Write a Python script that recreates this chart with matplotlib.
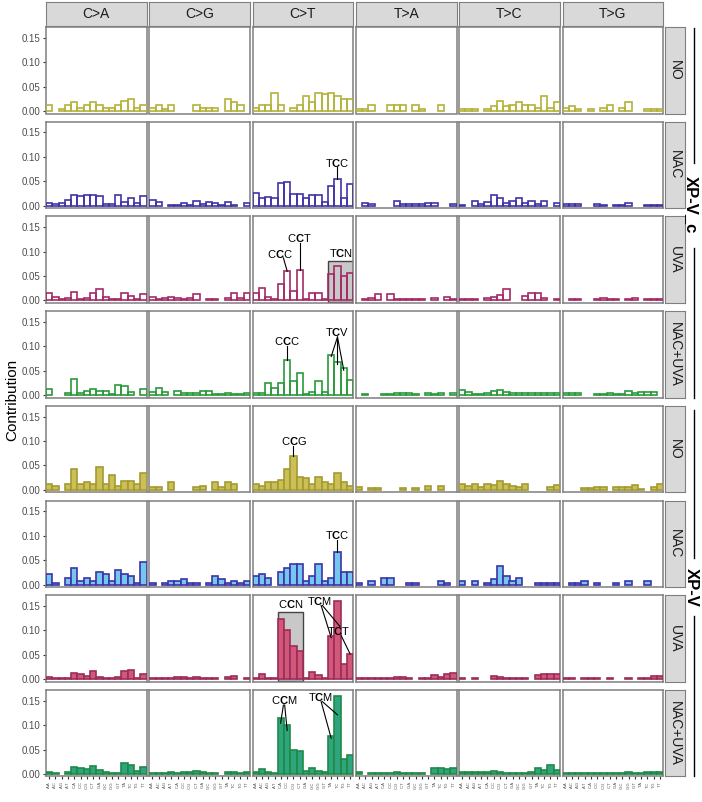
import matplotlib
matplotlib.use("Agg")
import matplotlib.pyplot as plt
from matplotlib.patches import Rectangle
from matplotlib.lines import Line2D

plt.rcParams['font.family'] = ['Liberation Sans', 'DejaVu Sans']
plt.rcParams['mathtext.fontset'] = 'custom'
plt.rcParams['mathtext.rm'] = 'Liberation Sans'
plt.rcParams['mathtext.bf'] = 'Liberation Sans:bold'

# ---- data: 96 contributions per sample, 16 per substitution type ----
substitutions = ['C>A', 'C>G', 'C>T', 'T>A', 'T>C', 'T>G']
contexts = [a + '.' + b for a in 'ACGT' for b in 'ACGT']
treatments = ['NO', 'NAC', 'UVA', 'NAC+UVA']

xpvc_no = [
    0.012, 0, 0.005, 0.012, 0.019, 0.007, 0.013, 0.019, 0.013, 0.006, 0.006, 0.013, 0.020, 0.025, 0.006, 0.013,
    0.006, 0.012, 0.005, 0.012, 0, 0, 0, 0.012, 0.006, 0.006, 0.006, 0, 0.024, 0.018, 0.012, 0,
    0.006, 0.012, 0.012, 0.036, 0.012, 0, 0.006, 0.012, 0.030, 0.018, 0.036, 0.034, 0.036, 0.030, 0.025, 0.025,
    0.005, 0.005, 0.012, 0, 0, 0.012, 0.012, 0.012, 0, 0.012, 0.005, 0, 0, 0.012, 0, 0,
    0.005, 0.005, 0.005, 0, 0.005, 0.010, 0.020, 0.010, 0.013, 0.018, 0.012, 0.012, 0.006, 0.030, 0.006, 0.018,
    0.006, 0.010, 0.005, 0, 0.005, 0, 0.006, 0.012, 0, 0.006, 0.018, 0, 0, 0.005, 0.005, 0.005]
xpvc_nac = [
    0.005, 0.003, 0.005, 0.012, 0.023, 0.020, 0.022, 0.022, 0.020, 0.003, 0.003, 0.023, 0.008, 0.015, 0.005, 0.020,
    0.012, 0.008, 0, 0.002, 0.002, 0.005, 0.002, 0.010, 0.003, 0.007, 0.005, 0.002, 0.008, 0.002, 0, 0.006,
    0.027, 0.015, 0.018, 0.015, 0.046, 0.048, 0.024, 0.024, 0.015, 0.021, 0.021, 0.008, 0.040, 0.055, 0.015, 0.045,
    0, 0.006, 0.004, 0, 0, 0, 0.010, 0.003, 0.003, 0.003, 0.003, 0.005, 0.005, 0, 0, 0.004,
    0.002, 0, 0.010, 0.003, 0.008, 0.022, 0.015, 0.006, 0.010, 0.016, 0.006, 0.010, 0.003, 0.010, 0, 0.005,
    0.003, 0.004, 0.004, 0, 0, 0.004, 0.002, 0, 0.002, 0.002, 0.005, 0, 0, 0.002, 0.002, 0.002]
xpvc_uva = [
    0.015, 0.007, 0.003, 0.006, 0.018, 0.003, 0.006, 0.015, 0.024, 0.008, 0.003, 0.003, 0.016, 0.010, 0.003, 0.014,
    0.008, 0.003, 0.005, 0.008, 0.005, 0.003, 0.006, 0.013, 0, 0.003, 0.003, 0, 0.006, 0.015, 0.006, 0.015,
    0.016, 0.026, 0.008, 0.003, 0.033, 0.060, 0.020, 0.063, 0.003, 0.016, 0.016, 0.003, 0.054, 0.070, 0.051, 0.056,
    0, 0.003, 0.006, 0.014, 0, 0.014, 0.002, 0.002, 0.002, 0.004, 0.004, 0, 0.005, 0, 0.008, 0.002,
    0.002, 0.004, 0.004, 0, 0.005, 0.008, 0.012, 0.023, 0, 0, 0.010, 0.016, 0.016, 0.006, 0, 0.003,
    0, 0.003, 0.003, 0, 0, 0.003, 0.006, 0.004, 0.002, 0, 0.003, 0.006, 0, 0.004, 0.004, 0.002]
xpvc_nacuva = [
    0.012, 0, 0, 0.005, 0.034, 0.004, 0.009, 0.012, 0.009, 0.009, 0.003, 0.020, 0.018, 0.006, 0, 0.013,
    0.006, 0.015, 0.006, 0, 0.008, 0.005, 0.005, 0.005, 0.008, 0.008, 0.002, 0.002, 0.005, 0.002, 0.002, 0.005,
    0.005, 0.005, 0.025, 0.015, 0.025, 0.071, 0.028, 0.046, 0.003, 0.006, 0.028, 0.006, 0.083, 0.067, 0.055, 0.030,
    0, 0.003, 0, 0, 0.002, 0.002, 0.004, 0.005, 0.005, 0.002, 0, 0.005, 0.003, 0.005, 0, 0.004,
    0.010, 0.006, 0.003, 0.003, 0.005, 0.009, 0.011, 0.006, 0.004, 0.004, 0.004, 0.004, 0.004, 0.004, 0.004, 0.004,
    0.004, 0.004, 0.004, 0, 0, 0.002, 0.002, 0.004, 0.002, 0.002, 0.008, 0.004, 0.006, 0.006, 0.006, 0]
xpv_no = [
    0.012, 0.008, 0, 0.012, 0.042, 0.012, 0.016, 0.012, 0.046, 0.012, 0.030, 0.008, 0.019, 0.019, 0.012, 0.034,
    0.005, 0.005, 0, 0.016, 0, 0, 0, 0.005, 0.008, 0, 0.016, 0.005, 0.016, 0.012, 0, 0,
    0.012, 0.008, 0.016, 0.016, 0.020, 0.042, 0.069, 0.027, 0.024, 0.012, 0.027, 0.016, 0.012, 0.034, 0.016, 0.008,
    0.005, 0, 0.003, 0.003, 0, 0, 0, 0.003, 0, 0.003, 0, 0.007, 0, 0.007, 0, 0,
    0.012, 0.008, 0.012, 0.005, 0.012, 0.010, 0.018, 0.012, 0.008, 0.005, 0.012, 0, 0, 0, 0.005, 0.010,
    0, 0, 0, 0.003, 0.003, 0.006, 0.006, 0, 0.005, 0.005, 0.005, 0.009, 0.002, 0, 0.006, 0.013]
xpv_nac = [
    0.021, 0.004, 0, 0.013, 0.033, 0.008, 0.013, 0.008, 0.025, 0.021, 0.008, 0.029, 0.021, 0.017, 0.004, 0.046,
    0.004, 0, 0.004, 0.008, 0.008, 0.012, 0.004, 0.004, 0, 0.004, 0.017, 0.012, 0.004, 0.008, 0.004, 0.008,
    0.017, 0.021, 0.013, 0, 0.025, 0.033, 0.042, 0.042, 0.008, 0.017, 0.042, 0.008, 0.013, 0.067, 0.025, 0.025,
    0.003, 0, 0.008, 0, 0.013, 0.013, 0, 0, 0.004, 0.004, 0, 0, 0, 0.008, 0.004, 0,
    0.008, 0, 0.008, 0, 0.004, 0.012, 0.038, 0.017, 0.008, 0.013, 0, 0, 0.003, 0.003, 0.003, 0.003,
    0, 0.003, 0.003, 0.008, 0, 0.004, 0, 0, 0.004, 0, 0.008, 0, 0, 0.008, 0, 0]
xpv_uva = [
    0.004, 0.002, 0.002, 0.002, 0.013, 0.011, 0.007, 0.017, 0.004, 0.002, 0.002, 0.004, 0.016, 0.018, 0.003, 0.010,
    0.002, 0.002, 0.002, 0.002, 0.004, 0.004, 0.003, 0.004, 0.002, 0.002, 0.002, 0, 0.004, 0.006, 0, 0.003,
    0.003, 0.010, 0.003, 0.003, 0.124, 0.100, 0.068, 0.057, 0.003, 0.014, 0.008, 0.003, 0.088, 0.160, 0.032, 0.052,
    0.003, 0.003, 0.002, 0.002, 0.002, 0.002, 0.004, 0.004, 0.003, 0, 0.002, 0.002, 0.008, 0.005, 0.011, 0.013,
    0.002, 0, 0.002, 0, 0, 0.006, 0.004, 0.002, 0.002, 0.002, 0.003, 0, 0.008, 0.010, 0.010, 0.010,
    0.002, 0.002, 0, 0.002, 0.002, 0.002, 0, 0.002, 0, 0, 0.002, 0, 0.002, 0.002, 0.006, 0.006]
xpv_nacuva = [
    0.004, 0.002, 0, 0.004, 0.015, 0.012, 0.010, 0.016, 0.008, 0.004, 0.002, 0.002, 0.022, 0.018, 0.006, 0.014,
    0.002, 0.001, 0.002, 0.004, 0.002, 0.003, 0.003, 0.006, 0.003, 0.002, 0.001, 0, 0.004, 0.004, 0.002, 0.003,
    0.003, 0.010, 0.004, 0.002, 0.114, 0.100, 0.048, 0.046, 0.007, 0.012, 0.007, 0.003, 0.078, 0.160, 0.030, 0.039,
    0.004, 0, 0.002, 0.002, 0.002, 0.002, 0.003, 0.002, 0.002, 0.002, 0.002, 0, 0.012, 0.013, 0.011, 0.012,
    0.003, 0.003, 0.003, 0.003, 0.003, 0.007, 0.003, 0.002, 0.002, 0.002, 0.002, 0.003, 0.012, 0.009, 0.018, 0.008,
    0.002, 0.002, 0.002, 0.002, 0.002, 0.002, 0.002, 0.002, 0.002, 0.002, 0.004, 0.002, 0.002, 0.003, 0.003, 0.005]

samples = [xpvc_no, xpvc_nac, xpvc_uva, xpvc_nacuva, xpv_no, xpv_nac, xpv_uva, xpv_nacuva]

# fill / edge colour per row (None = hollow)
fills = [None, None, None, None, '#cdbf57', '#74c7ef', '#d0597a', '#2ea47f']
edges = ['#b3b239', '#4033a6', '#a52a66', '#2a9a3a', '#a39b30', '#3d32a8', '#9e2b5a', '#1f8a45']

# ---- layout (pixels) ----
W, H = 702, 802
fig = plt.figure(figsize=(W / 100, H / 100), dpi=100)

def px_axes(x, y, w, h):
    return fig.add_axes([x / W, 1 - (y + h) / H, w / W, h / H])

col_left = [46 + 103.3 * c for c in range(6)]
row_top = [27 + 94.7 * r for r in range(8)]
pw, ph = 100.6, 86.5
grey = '#7f7f7f'

axes = {}
for r in range(8):
    for c in range(6):
        ax = px_axes(col_left[c], row_top[r], pw, ph)
        axes[(r, c)] = ax
        vals = samples[r][16 * c:16 * c + 16]
        xs = [i + 1 for i, v in enumerate(vals) if v > 0]
        ys = [v for v in vals if v > 0]
        ax.bar(xs, ys, width=1, facecolor=fills[r] if fills[r] else 'none',
               edgecolor=edges[r], linewidth=1.2, zorder=3)
        ax.set_xlim(0.5, 16.5)
        ax.set_ylim(-0.005, 0.172)
        for s in ax.spines.values():
            s.set_color(grey)
            s.set_linewidth(1.1)
        if c == 0:
            ax.set_yticks([0, 0.05, 0.10, 0.15])
            ax.set_yticklabels(['0.00', '0.05', '0.10', '0.15'])
            ax.tick_params(axis='y', length=2.5, width=0.8, color='#333333',
                           labelsize=7, labelcolor='#4d4d4d', pad=1.5)
        else:
            ax.set_yticks([])
        if r == 7:
            ax.set_xticks(range(1, 17))
            ax.set_xticklabels(contexts, rotation=90, fontsize=3, color='#4d4d4d')
            ax.tick_params(axis='x', length=2.5, width=0.8, color='#333333', pad=1)
        else:
            ax.set_xticks([])

# strips
for c in range(6):
    s = px_axes(col_left[c], 2, pw, 24)
    s.set_facecolor('#d9d9d9')
    s.set_xticks([]); s.set_yticks([])
    for sp in s.spines.values():
        sp.set_color(grey)
    s.text(0.5, 0.5, substitutions[c], ha='center', va='center', fontsize=10,
           color='#1a1a1a', transform=s.transAxes)
for r in range(8):
    s = px_axes(664.5, row_top[r], 20, ph)
    s.set_facecolor('#d9d9d9')
    s.set_xticks([]); s.set_yticks([])
    for sp in s.spines.values():
        sp.set_color(grey)
    s.text(0.5, 0.5, treatments[r % 4], ha='center', va='center', fontsize=10,
           rotation=-90, color='#1a1a1a', transform=s.transAxes)

# ---- annotations in the C>T column ----
def label(ax, first, last, x, y):
    ax.text(x, y, first + r'$\mathbf{C}$' + last, ha='center', va='center',
            fontsize=8, zorder=6, clip_on=False)

def link(ax, x0, y0, x1, y1):
    ax.plot([x0, x1], [y0, y1], color='black', lw=0.8, zorder=6, clip_on=False)

def box(ax, x0, x1, top):
    ax.add_patch(Rectangle((x0, -0.003), x1 - x0, top + 0.003, facecolor='#c8c8c8',
                           edgecolor='#444444', lw=1.0, zorder=2))

ct = 2
a = axes[(1, ct)]
label(a, 'T', 'C', 14, 0.088)
link(a, 14, 0.079, 14, xpvc_nac[32 + 13])

a = axes[(2, ct)]
label(a, 'C', 'C', 4.8, 0.096)
link(a, 5.4, 0.087, 6, xpvc_uva[32 + 5])
label(a, 'C', 'T', 8.0, 0.127)
link(a, 8.0, 0.118, 8, xpvc_uva[32 + 7])
label(a, 'T', 'N', 14.5, 0.097)
box(a, 12.5, 16.5, 0.081)

a = axes[(3, ct)]
label(a, 'C', 'C', 6.0, 0.110)
link(a, 6.0, 0.100, 6, xpvc_nacuva[32 + 5])
label(a, 'T', 'V', 14.0, 0.129)
for i in (12, 13, 14):
    link(a, 14.0, 0.119, i + 1, xpvc_nacuva[32 + i] - 0.004)

a = axes[(4, ct)]
label(a, 'C', 'G', 7.0, 0.099)
link(a, 7.0, 0.090, 7, xpv_no[32 + 6])

a = axes[(5, ct)]
label(a, 'T', 'C', 14.0, 0.101)
link(a, 14.0, 0.092, 14, xpv_nac[32 + 13])

a = axes[(6, ct)]
box(a, 4.5, 8.5, 0.137)
label(a, 'C', 'N', 6.6, 0.153)
label(a, 'T', 'M', 11.2, 0.161)
link(a, 11.4, 0.151, 13, xpv_uva[32 + 12] - 0.003)
link(a, 11.6, 0.151, 14.4, 0.108)
label(a, 'T', 'T', 14.2, 0.098)
link(a, 14.6, 0.089, 16, xpv_uva[32 + 15])

a = axes[(7, ct)]
label(a, 'C', 'M', 5.5, 0.152)
link(a, 5.4, 0.141, 4.95, 0.104)
link(a, 5.6, 0.141, 6.0, 0.089)
label(a, 'T', 'M', 11.3, 0.158)
link(a, 11.4, 0.148, 13, 0.073)
link(a, 11.6, 0.148, 14, 0.121)

# ---- outer labels ----
fig.text(12 / W, 1 - 400 / H, 'Contribution', rotation=90, ha='center', va='center',
         fontsize=11)

def fx(x): return x / W
def fy(y): return 1 - y / H

for y0, y1 in [(28, 163), (248, 398), (410, 558), (616, 776)]:
    fig.add_artist(Line2D([fx(694), fx(694)], [fy(y0), fy(y1)], color='black', lw=1.0))
fig.text(fx(691), fy(205), 'XP-V_c', rotation=-90, ha='center', va='center',
         fontsize=12, fontweight='bold')
fig.text(fx(691), fy(587), 'XP-V', rotation=-90, ha='center', va='center',
         fontsize=12, fontweight='bold')

fig.savefig('out.png', dpi=100, facecolor='white')
